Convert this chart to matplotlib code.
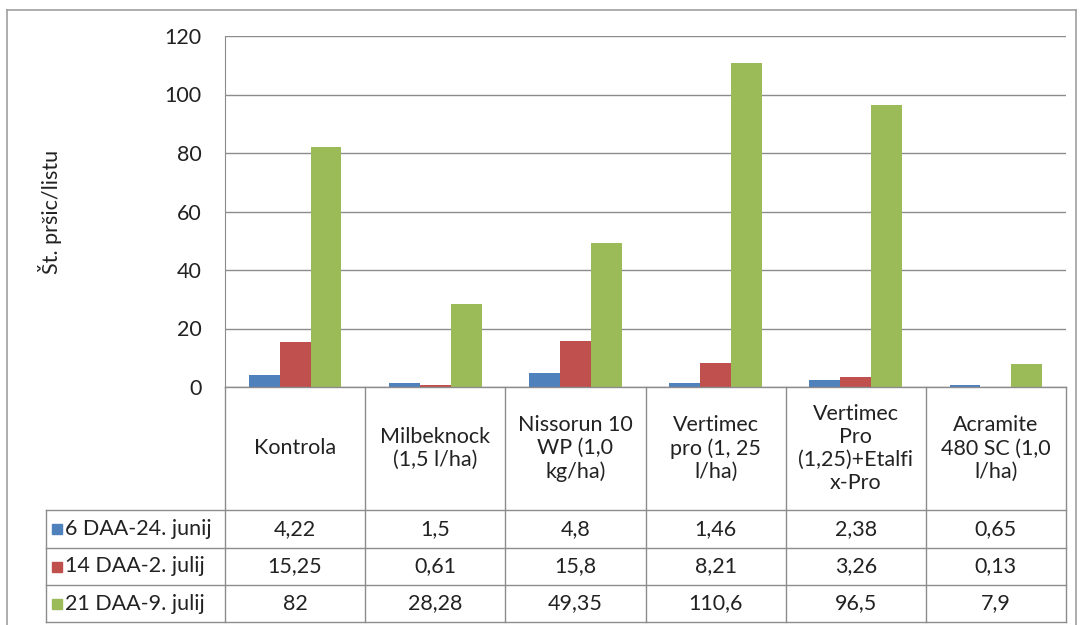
import numpy as np
import matplotlib
matplotlib.use("Agg")
import matplotlib.pyplot as plt
from matplotlib.lines import Line2D
from matplotlib.patches import Rectangle

plt.rcParams['font.family'] = ['Lato', 'DejaVu Sans']

categories = ["Kontrola", "Milbeknock\n(1,5 l/ha)", "Nissorun 10\nWP (1,0\nkg/ha)",
              "Vertimec\npro (1, 25\nl/ha)", "Vertimec\nPro\n(1,25)+Etalfi\nx-Pro",
              "Acramite\n480 SC (1,0\nl/ha)"]
series_names = ["6 DAA-24. junij", "14 DAA-2. julij", "21 DAA-9. julij"]
daa6 = [4.22, 1.5, 4.8, 1.46, 2.38, 0.65]
daa14 = [15.25, 0.61, 15.8, 8.21, 3.26, 0.13]
daa21 = [82, 28.28, 49.35, 110.6, 96.5, 7.9]
colors = ["#4F81BD", "#C0504D", "#9BBB59"]

W, H = 1080, 625
fig = plt.figure(figsize=(W / 100, H / 100), dpi=100)

def fx(x):
    return x / W

def fy(y):
    return 1 - y / H

# plot area
left, right, top, bottom = 225, 1066, 36, 387
ax = fig.add_axes([fx(left), fy(bottom), fx(right - left), (bottom - top) / H])
x = np.arange(len(categories))
bw = 0.22
for i, vals in enumerate([daa6, daa14, daa21]):
    ax.bar(x + (i - 1) * bw, vals, width=bw, color=colors[i], zorder=3)
ax.set_xlim(-0.5, len(categories) - 0.5)
ax.set_ylim(0, 120)
ax.set_yticks(range(0, 121, 20))
ax.yaxis.grid(True, color="#8c8c8c", linewidth=1)
ax.set_axisbelow(True)
ax.set_xticks([])
for s in ["top", "right", "bottom"]:
    ax.spines[s].set_visible(False)
ax.spines["left"].set_color("#8c8c8c")
ax.tick_params(axis="y", length=0, labelsize=15.5, pad=17, labelcolor="#222222")
ax.set_facecolor("none")

# y label
fig.text(fx(50), fy(212), "Št. pršic/listu", rotation=90, ha="center", va="center",
         fontsize=15.5, color="#222222")

# data table
lc = "#8c8c8c"
fs = 15.5
cols = np.linspace(left, right, len(categories) + 1)
row_y = [387, 510, 548, 585, 622]
lab_left = 46

def hline(x0, x1, y):
    fig.add_artist(Line2D([fx(x0), fx(x1)], [fy(y), fy(y)], color=lc, lw=1))

def vline(x, y0, y1):
    fig.add_artist(Line2D([fx(x), fx(x)], [fy(y0), fy(y1)], color=lc, lw=1))

hline(left, right, row_y[0])
for y in row_y[1:]:
    hline(lab_left, right, y)
for c in cols:
    vline(c, row_y[0], row_y[-1])
vline(lab_left, row_y[1], row_y[-1])

for j, cat in enumerate(categories):
    cx = (cols[j] + cols[j + 1]) / 2
    fig.text(fx(cx), fy((row_y[0] + row_y[1]) / 2), cat, ha="center", va="center",
             fontsize=fs, linespacing=1.2, color="#222222")

for i, vals in enumerate([daa6, daa14, daa21]):
    cy = (row_y[i + 1] + row_y[i + 2]) / 2
    fig.add_artist(Rectangle((fx(52), fy(cy + 5)), fx(10), 10 / H, color=colors[i]))
    fig.text(fx(65), fy(cy), series_names[i], ha="left", va="center", fontsize=fs,
             color="#222222")
    for j, v in enumerate(vals):
        cx = (cols[j] + cols[j + 1]) / 2
        txt = ("%g" % v).replace(".", ",")
        fig.text(fx(cx), fy(cy), txt, ha="center", va="center", fontsize=fs,
                 color="#222222")

# outer frame
fig.add_artist(Line2D([fx(7), fx(7)], [fy(10), 0], color="#a0a0a0", lw=1.2))
fig.add_artist(Line2D([fx(7), fx(1076)], [fy(10), fy(10)], color="#a0a0a0", lw=1.2))
fig.add_artist(Line2D([fx(1076), fx(1076)], [fy(10), 0], color="#a0a0a0", lw=1.2))

fig.savefig("out.png", dpi=100)
